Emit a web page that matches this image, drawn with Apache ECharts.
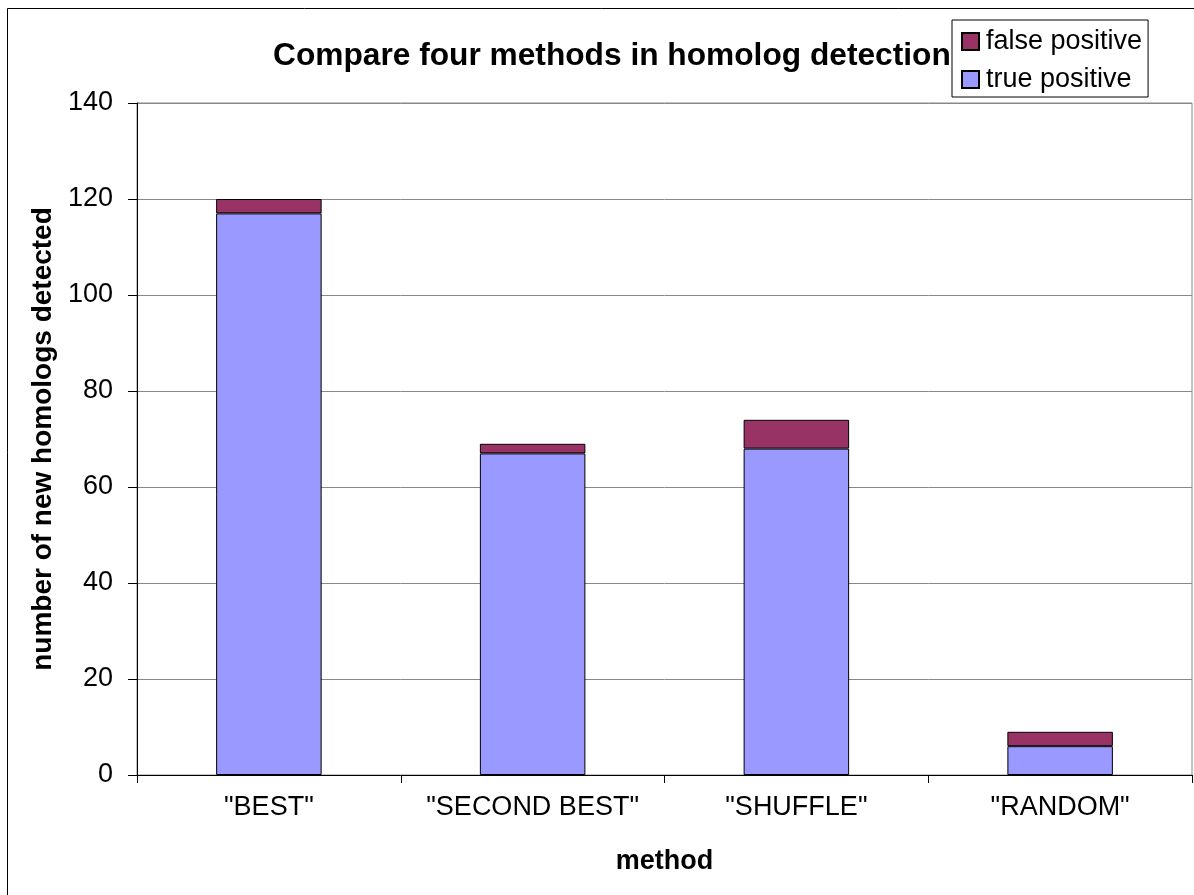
<!DOCTYPE html>
<html>
<head>
<meta charset="utf-8">
<title>Compare four methods in homolog detection</title>
<script src="https://cdn.jsdelivr.net/npm/echarts@6/dist/echarts.min.js"></script>
<style>
  html, body { margin: 0; padding: 0; background: #ffffff; }
  #chart { width: 1194px; height: 895px; }
</style>
</head>
<body>
<div id="chart"></div>
<script>
// Methods compared on the x axis
const categories = ['"BEST"', '"SECOND BEST"', '"SHUFFLE"', '"RANDOM"'];
// Homologs detected per method, split into correct and incorrect hits
const truePositive = [117, 67, 68, 6];
const falsePositive = [3, 2, 6, 3];
// Value axis ticks
const yTicks = [0, 20, 40, 60, 80, 100, 120, 140];

const FONT = '"Liberation Sans", Arial, sans-serif';

const chart = echarts.init(document.getElementById('chart'), null, { renderer: 'canvas' });

chart.setOption({
  backgroundColor: '#ffffff',
  animation: false,
  textStyle: { fontFamily: FONT, color: '#000' },
  graphic: [
    {
      // frame around the whole chart
      type: 'rect',
      shape: { x: 7.5, y: 8.5, width: 1400, height: 1100 },
      style: { fill: 'none', stroke: '#000', lineWidth: 1 },
      silent: true,
      z: -10
    }
  ],
  title: {
    text: 'Compare four methods in homolog detection',
    left: 273,
    top: 40,
    padding: 0,
    textStyle: { fontFamily: FONT, fontSize: 31.7, fontWeight: 'bold', color: '#000' }
  },
  legend: {
    orient: 'vertical',
    left: 952,
    top: 20,
    padding: [8, 6, 4, 9],
    icon: 'rect',
    itemWidth: 17,
    itemHeight: 17,
    itemGap: 11,
    borderColor: '#000',
    borderWidth: 1,
    backgroundColor: '#fff',
    data: ['false positive', 'true positive'],
    textStyle: { fontFamily: FONT, fontSize: 27, color: '#000', padding: [0, 0, 0, 2] }
  },
  grid: {
    left: 137,
    right: 2,
    top: 103,
    bottom: 120,
    show: true,
    borderColor: '#888',
    borderWidth: 1,
    containLabel: false
  },
  xAxis: {
    type: 'category',
    data: categories,
    name: 'method',
    nameLocation: 'middle',
    nameGap: 73,
    nameTextStyle: { fontFamily: FONT, fontSize: 27, fontWeight: 'bold', color: '#000' },
    axisLine: { lineStyle: { color: '#000', width: 1 } },
    axisTick: { show: true, alignWithLabel: false, length: 8, inside: false, lineStyle: { color: '#000' } },
    axisLabel: { fontFamily: FONT, fontSize: 27, color: '#000', margin: 19, interval: 0 },
    splitLine: { show: false }
  },
  yAxis: {
    type: 'value',
    min: 0,
    max: 140,
    interval: 20,
    name: 'number of new homologs detected',
    nameLocation: 'middle',
    nameRotate: 90,
    nameGap: 80,
    nameTextStyle: { fontFamily: FONT, fontSize: 28, fontWeight: 'bold', color: '#000' },
    axisLine: { show: true, lineStyle: { color: '#000', width: 1 } },
    axisTick: { show: true, length: 9, inside: false, lineStyle: { color: '#000' } },
    axisLabel: {
      fontFamily: FONT, fontSize: 27, color: '#000', margin: 24,
      formatter: function (v) { return yTicks.indexOf(v) >= 0 ? String(v) : ''; }
    },
    splitLine: { show: true, lineStyle: { color: '#888', width: 1 } }
  },
  series: [
    {
      name: 'true positive',
      type: 'bar',
      stack: 'total',
      barWidth: '40%',
      data: truePositive,
      itemStyle: { color: '#9999FF', borderColor: '#000', borderWidth: 1 }
    },
    {
      name: 'false positive',
      type: 'bar',
      stack: 'total',
      barWidth: '40%',
      data: falsePositive,
      itemStyle: { color: '#993366', borderColor: '#000', borderWidth: 1 }
    }
  ]
});
</script>
</body>
</html>
